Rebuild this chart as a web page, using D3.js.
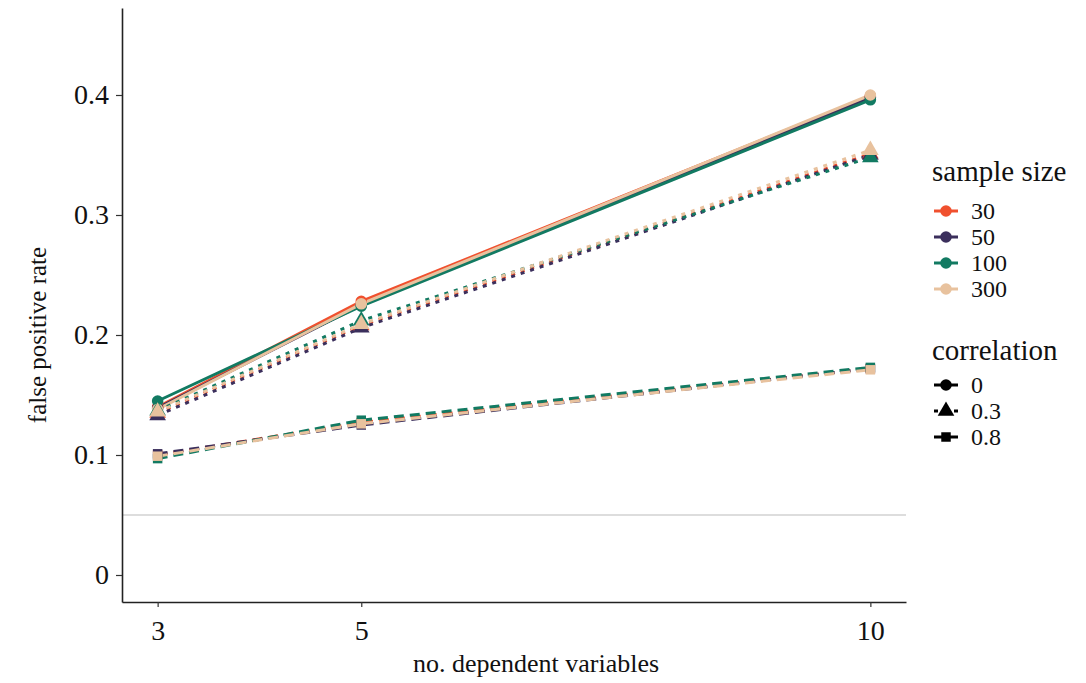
<!doctype html>
<html>
<head>
<meta charset="utf-8">
<script src="https://d3js.org/d3.v7.min.js"></script>
<style>
  body { margin: 0; background: #fff; }
  text { font-family: "Liberation Serif", "Times New Roman", serif; fill: #111; }
</style>
</head>
<body>
<div id="chart"></div>
<script>
// data
var nDV = [3, 5, 10];
var sampleSizes = ["30", "50", "100", "300"];
var correlations = ["0", "0.3", "0.8"];
var sizeColors = ["#f0502e", "#3b2f5c", "#127a62", "#e8c29e"];
// false positive rate, [sample size][nDV], one array per correlation
var fpr_r0 = [
  [0.140, 0.228, 0.399],
  [0.139, 0.225, 0.398],
  [0.145, 0.224, 0.396],
  [0.138, 0.226, 0.400]
];
var fpr_r03 = [
  [0.135, 0.208, 0.351],
  [0.133, 0.206, 0.350],
  [0.137, 0.212, 0.348],
  [0.136, 0.209, 0.354]
];
var fpr_r08 = [
  [0.100, 0.127, 0.172],
  [0.101, 0.125, 0.172],
  [0.097, 0.129, 0.173],
  [0.099, 0.126, 0.171]
];
var yTicks = [0, 0.1, 0.2, 0.3, 0.4];
var refLine = 0.05;

var allFpr = [fpr_r0, fpr_r03, fpr_r08];
var dashes = [null, "4,6", "10,6"];
var shapes = [d3.symbolCircle, d3.symbolTriangle, d3.symbolSquare];
var shapeSize = [105, 120, 90];

var W = 1086, H = 683;
var svg = d3.select("#chart").append("svg")
  .attr("width", W).attr("height", H);

var x = d3.scaleLinear().domain([2.65, 10.35]).range([122, 906]);
var y = d3.scaleLinear().domain([-0.0225, 0.4725]).range([602, 8]);

// reference line
svg.append("line")
  .attr("x1", 122).attr("x2", 906)
  .attr("y1", y(refLine)).attr("y2", y(refLine))
  .attr("stroke", "#bbb").attr("stroke-width", 1);

// axes
var xAxis = svg.append("g")
  .attr("transform", "translate(0,602)")
  .call(d3.axisBottom(x).tickValues(nDV).tickSize(5).tickPadding(13).tickSizeOuter(0));
var yAxis = svg.append("g")
  .attr("transform", "translate(122,0)")
  .call(d3.axisLeft(y).tickValues(yTicks).tickSize(6).tickPadding(7).tickSizeOuter(0)
    .tickFormat(function(d) { return d === 0 ? "0" : d3.format(".1f")(d); }));
[xAxis, yAxis].forEach(function(a) {
  a.select(".domain").attr("stroke", "#222").attr("stroke-width", 1.6);
  a.selectAll(".tick line").attr("stroke", "#333").attr("stroke-width", 1.2);
  a.selectAll(".tick text").style("font-size", "28px")
    .style("font-family", "Liberation Serif").attr("fill", "#111");
});

// axis titles
svg.append("text")
  .attr("x", 536).attr("y", 672)
  .attr("text-anchor", "middle")
  .style("font-size", "26px")
  .text("no. dependent variables");
svg.append("text")
  .attr("transform", "translate(46,335) rotate(-90)")
  .attr("text-anchor", "middle")
  .style("font-size", "25px")
  .text("false positive rate");

// lines and points
var line = d3.line()
  .x(function(d, i) { return x(nDV[i]); })
  .y(function(d) { return y(d); });

allFpr.forEach(function(group, ci) {
  group.forEach(function(vals, si) {
    svg.append("path")
      .attr("d", line(vals))
      .attr("fill", "none")
      .attr("stroke", sizeColors[si])
      .attr("stroke-width", 3)
      .attr("stroke-dasharray", dashes[ci]);
  });
  group.forEach(function(vals, si) {
    svg.selectAll(null)
      .data(vals)
      .enter()
      .append("path")
      .attr("transform", function(d, i) { return "translate(" + x(nDV[i]) + "," + y(d) + ")"; })
      .attr("d", d3.symbol().type(shapes[ci]).size(shapeSize[ci]))
      .attr("fill", sizeColors[si]);
  });
});

// legends
var leg = svg.append("g");
leg.append("text").attr("x", 932).attr("y", 181).style("font-size", "29px").text("sample size");
sampleSizes.forEach(function(s, i) {
  var cy = 211 + i * 26;
  leg.append("line").attr("x1", 934).attr("x2", 958).attr("y1", cy).attr("y2", cy)
    .attr("stroke", sizeColors[i]).attr("stroke-width", 3);
  leg.append("path").attr("transform", "translate(946," + cy + ")")
    .attr("d", d3.symbol().type(d3.symbolCircle).size(shapeSize[0])).attr("fill", sizeColors[i]);
  leg.append("text").attr("x", 971).attr("y", cy + 8).style("font-size", "24px").text(s);
});
leg.append("text").attr("x", 932).attr("y", 360).style("font-size", "29px").text("correlation");
correlations.forEach(function(c, i) {
  var cy = 385 + i * 26;
  leg.append("line").attr("x1", 934).attr("x2", 958).attr("y1", cy).attr("y2", cy)
    .attr("stroke", "#000").attr("stroke-width", 3)
    .attr("stroke-dasharray", dashes[i]);
  leg.append("path").attr("transform", "translate(946," + cy + ")")
    .attr("d", d3.symbol().type(shapes[i]).size(shapeSize[i])).attr("fill", "#000");
  leg.append("text").attr("x", 971).attr("y", cy + 8).style("font-size", "24px").text(c);
});
</script>
</body>
</html>
